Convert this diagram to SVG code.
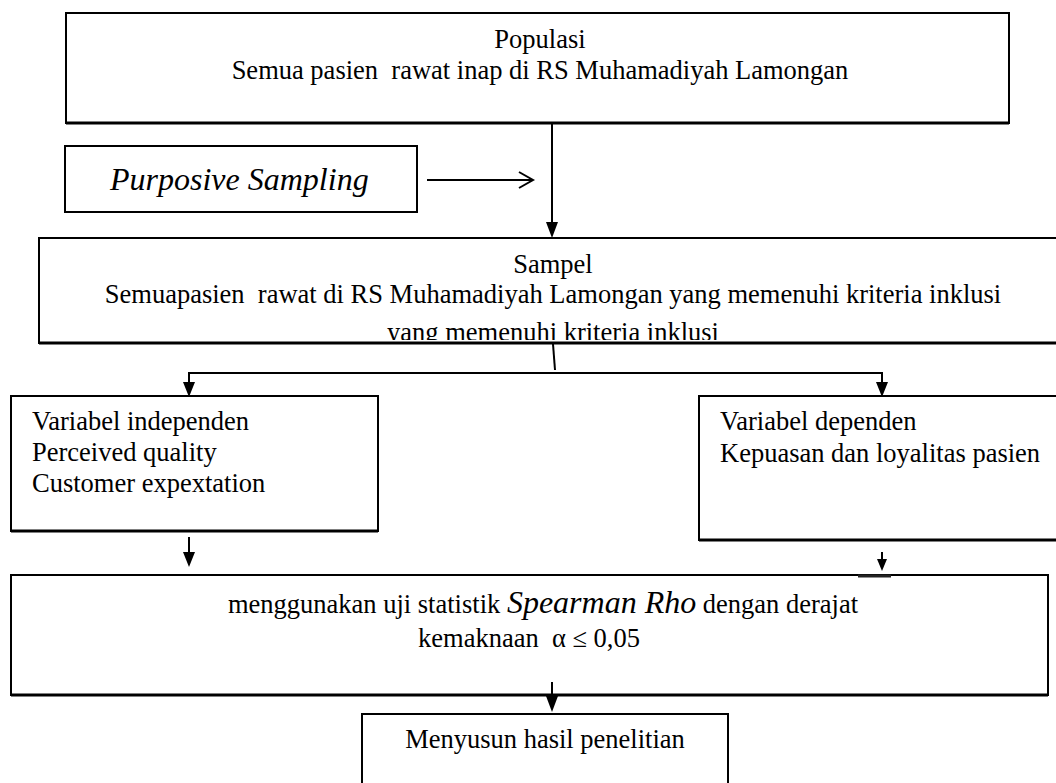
<svg xmlns="http://www.w3.org/2000/svg" width="1056" height="783" viewBox="0 0 1056 783">
  <defs>
    <style>
      .box { fill: #ffffff; stroke: #000000; stroke-width: 2; }
      .edge { stroke: #000000; stroke-width: 3; }
      .t { font-family: "Liberation Serif", "Times New Roman", serif; font-size: 26.5px; fill: #000000; white-space: pre; }
      .it { font-family: "Liberation Serif", "Times New Roman", serif; font-style: italic; font-size: 32px; fill: #000000; white-space: pre; }
      .c { text-anchor: middle; }
      .ln { stroke: #000000; stroke-width: 2; fill: none; }
      .head { fill: #000000; }
    </style>
    <clipPath id="clipSampel">
      <rect x="39" y="238" width="1017" height="102"/>
    </clipPath>
  </defs>
  <rect width="1056" height="783" fill="#ffffff"/>

  <g id="node-populasi">
    <rect class="box" x="66" y="13" width="943" height="110"/>
    <line class="edge" x1="66" y1="123" x2="1009" y2="123"/>
    <text class="t c" x="540" y="48">Populasi</text>
    <text class="t c" x="540" y="79" xml:space="preserve">Semua pasien  rawat inap di RS Muhamadiyah Lamongan</text>
  </g>

  <g id="node-purposive">
    <rect class="box" x="65" y="146" width="352" height="66"/>
    <text class="it" x="110" y="190">Purposive Sampling</text>
  </g>

  <g id="node-sampel">
    <rect class="box" x="39" y="238" width="1030" height="105"/>
    <line class="edge" x1="39" y1="343" x2="1056" y2="343"/>
    <text class="t c" x="553" y="273">Sampel</text>
    <text class="t c" x="553" y="303" xml:space="preserve">Semuapasien  rawat di RS Muhamadiyah Lamongan yang memenuhi kriteria inklusi</text>
    <text class="t c" x="553" y="341" clip-path="url(#clipSampel)">yang memenuhi kriteria inklusi</text>
  </g>

  <g id="node-independen">
    <rect class="box" x="11" y="396" width="367" height="135"/>
    <line class="edge" x1="11" y1="531" x2="378" y2="531"/>
    <text class="t" x="32" y="430">Variabel independen</text>
    <text class="t" x="32" y="461">Perceived quality</text>
    <text class="t" x="32" y="492">Customer expextation</text>
  </g>

  <g id="node-dependen">
    <rect class="box" x="699" y="396" width="370" height="144"/>
    <line class="edge" x1="699" y1="540" x2="1056" y2="540"/>
    <text class="t" x="720" y="430">Variabel dependen</text>
    <text class="t" x="720" y="462">Kepuasan dan loyalitas pasien</text>
  </g>

  <g id="node-uji">
    <rect class="box" x="11" y="575" width="1037" height="120"/>
    <line class="edge" x1="11" y1="695" x2="1048" y2="695"/>
    <text class="t c" x="543" y="613" xml:space="preserve">menggunakan uji statistik <tspan class="it">Spearman Rho</tspan> dengan derajat</text>
    <text class="t c" x="529" y="647" xml:space="preserve">kemaknaan  α ≤ 0,05</text>
  </g>

  <g id="node-hasil">
    <rect class="box" x="362" y="714" width="366" height="90"/>
    <text class="t c" x="545" y="748">Menyusun hasil penelitian</text>
  </g>

  <g id="connectors">
    <line class="ln" x1="427" y1="180" x2="532" y2="180"/>
    <polyline class="ln" points="519,172 533,180 519,188"/>
    <line class="ln" x1="552" y1="124" x2="552" y2="224"/>
    <polygon class="head" points="546,222 558,222 552,238"/>
    <line class="ln" x1="553" y1="344" x2="555" y2="370"/>
    <line class="ln" x1="188" y1="373" x2="883" y2="373"/>
    <line class="ln" x1="189" y1="373" x2="189" y2="384"/>
    <polygon class="head" points="183,382 195,382 189,397"/>
    <line class="ln" x1="882" y1="373" x2="882" y2="384"/>
    <polygon class="head" points="876,382 888,382 882,397"/>
    <line class="ln" x1="189" y1="537" x2="189" y2="554"/>
    <polygon class="head" points="183,552 195,552 189,567"/>
    <line class="ln" x1="882" y1="552" x2="882" y2="560"/>
    <polygon class="head" points="877,559 887,559 882,571"/>
    <line x1="858" y1="576" x2="891" y2="576" stroke="#222222" stroke-width="3"/>
    <line class="ln" x1="552" y1="682" x2="552" y2="698"/>
    <polygon class="head" points="546,696 558,696 552,712"/>
  </g>
</svg>
